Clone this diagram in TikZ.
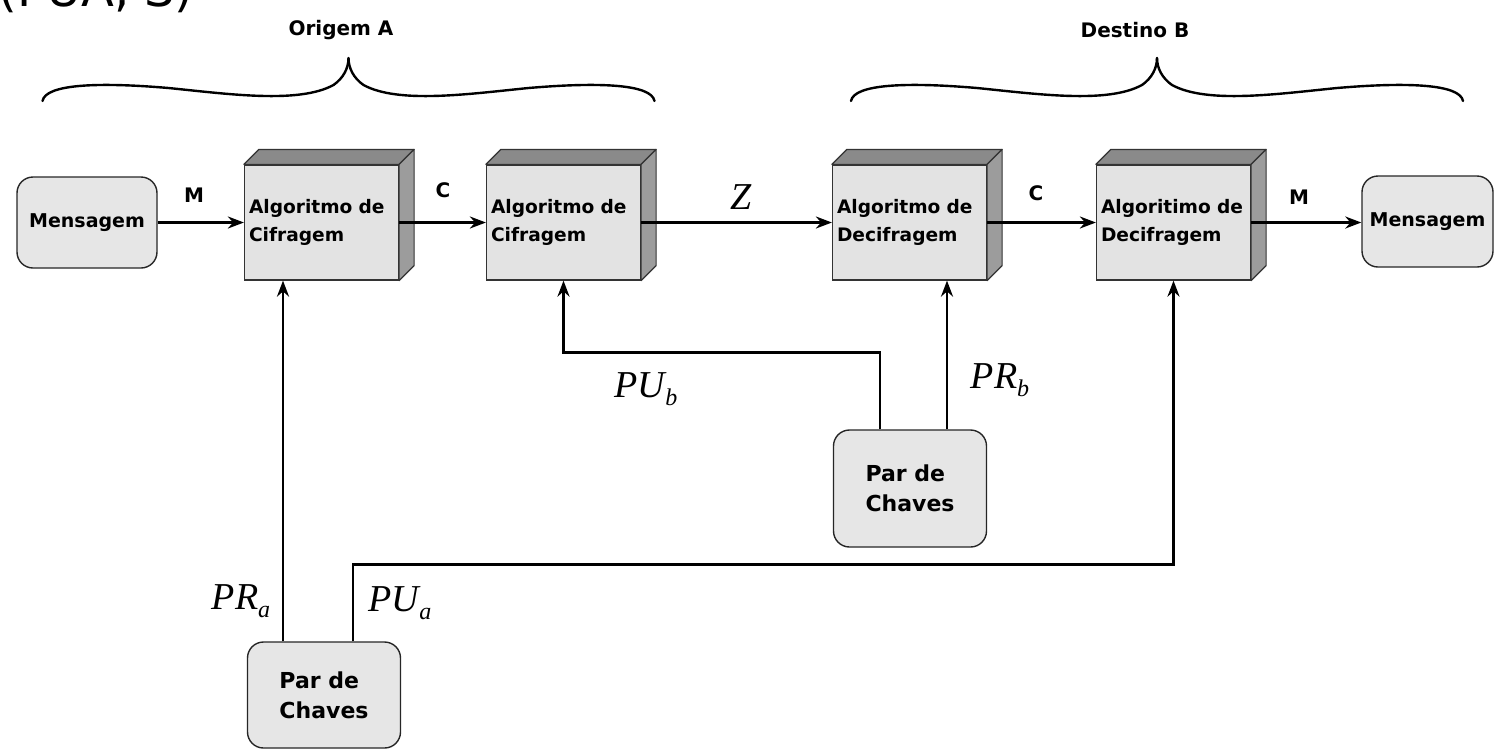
\documentclass[tikz,border=0pt]{standalone}
\usepackage{fontspec}
\setmainfont{DejaVu Sans}
\newfontfamily\lserif{Liberation Serif}
\usetikzlibrary{arrows.meta}
\definecolor{facefront}{HTML}{E3E3E3}
\definecolor{facetop}{HTML}{8A8A8A}
\definecolor{faceside}{HTML}{9C9C9C}
\definecolor{roundfill}{HTML}{E6E6E6}
\newcommand\klab[2]{{\lserif\itshape\fontsize{19}{19}\selectfont #1\raisebox{-0.22em}{\fontsize{12}{12}\selectfont #2}}}
\newcommand\cubefaces[1]{%
  \filldraw[fill=facetop,draw=black!80,line width=0.6pt,line join=round]
    (#1.north west) -- ++(15,-15) -- ([shift={(15,-15)}]#1.north east) -- (#1.north east) -- cycle;
  \filldraw[fill=faceside,draw=black!80,line width=0.6pt,line join=round]
    (#1.north east) -- ++(15,-15) -- ([shift={(15,-15)}]#1.south east) -- (#1.south east) -- cycle;}
\begin{document}
\begin{tikzpicture}[x=0.5pt,y=-0.5pt,
  cube/.style={draw=black!80,line width=0.6pt,fill=facefront,minimum height=57.5pt,
    text width=72.5pt,inner xsep=2.25pt,inner ysep=0pt,align=left,
    font=\bfseries\fontsize{9.3}{14}\selectfont},
  rbox/.style={draw=black!85,line width=0.7pt,fill=roundfill,rounded corners=8pt,
    inner sep=0pt,font=\bfseries\fontsize{9.5}{12}\selectfont},
  keybox/.style={rbox,minimum width=76.5pt,align=left,font=\bfseries\fontsize{11}{15}\selectfont},
  arr/.style={line width=1.3pt,-{Stealth[length=8pt,width=6pt]}},
  lbl/.style={font=\bfseries\fontsize{10}{10}\selectfont,inner sep=0pt},
  brace/.style={line width=1.2pt,line cap=round},
  title/.style={font=\bfseries\fontsize{10}{10}\selectfont,inner sep=0pt}]
\useasboundingbox (0,0) rectangle (1495,752);

% partially visible text at top (cut by the page edge, as in the reference)
\node[anchor=base west,font=\fontsize{24}{24}\selectfont,inner sep=0pt] (toptxt) at (-2,6) {(PUA, S)};

% braces and titles
\foreach \cx in {348.5,1157}{
  \draw[brace,shift={(\cx,0)}] (-306,101) .. controls (-303,84) and (-250,82) .. (-180,88)
     .. controls (-120,94) and (-50,104) .. (-15,85) .. controls (-5,78) and (0,68) .. (0,58);
  \draw[brace,shift={(\cx,0)}] (306,101) .. controls (303,84) and (250,82) .. (180,88)
     .. controls (120,94) and (50,104) .. (15,85) .. controls (5,78) and (0,68) .. (0,58);
}
\node[title] (orig) at (341,30) {Origem A};
\node[title] (dest) at (1135,30) {Destino B};

% message boxes
\node[rbox,minimum width=70pt,minimum height=45.5pt] (m1) at (87,222.5) {Mensagem};
\node[rbox,minimum width=65.5pt,minimum height=45.5pt] (m2) at (1427.5,221.5) {Mensagem};

% cubes
\node[cube] (e1) at (321.5,222.5) {Algoritmo de\\Cifragem};
\node[cube] (e2) at (563.5,222.5) {Algoritmo de\\Cifragem};
\node[cube] (e3) at (909.5,222.5) {Algoritmo de\\Decifragem};
\node[cube] (e4) at (1173.5,222.5) {Algoritimo de\\Decifragem};
\cubefaces{e1}\cubefaces{e2}\cubefaces{e3}\cubefaces{e4}

% key pair boxes
\node[keybox,minimum height=58.5pt] (k1) at (910,488.5) {Par de\\Chaves};
\node[keybox,minimum height=53pt] (k2) at (324,695) {Par de\\Chaves};

% main flow
\draw[arr] (m1.east) -- (m1.east -| e1.west);
\draw[arr] (e1.east) -- (e2.west);
\draw[arr] (e2.east) -- (e3.west);
\draw[arr] (e3.east) -- (e4.west);
\draw[arr] (e4.east) -- (e4.east -| m2.west);

\node[lbl] (lm1) at (194,195) {M};
\node[lbl] (lc1) at (443,190) {C};
\node (lz) at (741,197) {\lserif\itshape\fontsize{19}{19}\selectfont Z};
\node[lbl] (lc2) at (1036,193) {C};
\node[lbl] (lm2) at (1299,197) {M};

% key connectors
\draw[arr] ([xshift=-20.5pt]k2.north) coordinate (pa) -- (pa |- e1.south);
\draw[arr] ([xshift=14.5pt]k2.north) -- ++(0,-77) -| (e4.south);
\draw[arr] ([xshift=-15pt]k1.north) -- ++(0,-77) -| (e2.south);
\draw[arr] ([xshift=18.5pt]k1.north) coordinate (pb) -- (pb |- e3.south);

\node (lpra) at (241,601) {\klab{PR}{a}};
\node (lpua) at (400,603) {\klab{PU}{a}};
\node (lpub) at (646,389) {\klab{PU}{b}};
\node (lprb) at (1000,380) {\klab{PR}{b}};
\end{tikzpicture}
\end{document}
